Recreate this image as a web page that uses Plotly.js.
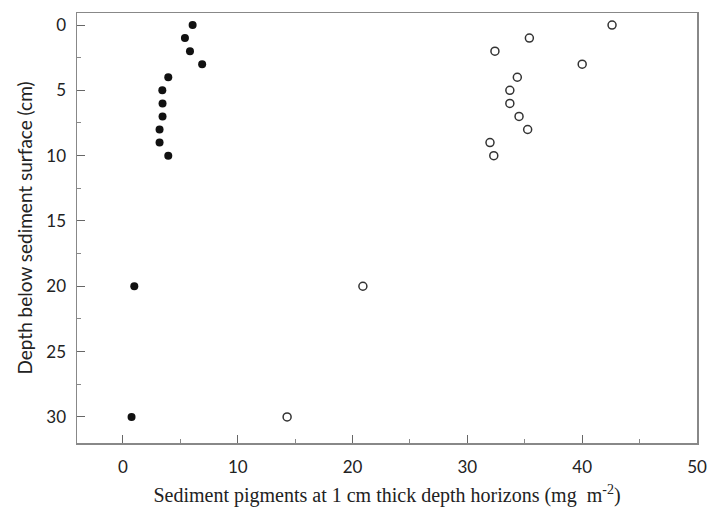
<!DOCTYPE html>
<html>
<head>
<meta charset="utf-8">
<script src="https://cdn.plot.ly/plotly-3.0.1.min.js"></script>
<style>html,body{margin:0;padding:0;background:#fff;}#chart{width:707px;height:516px;}</style>
</head>
<body>
<div id="chart"></div>
<script>
// Filled circles series
var filledPigment = [6.07, 5.4, 5.84, 6.9, 3.95, 3.43, 3.45, 3.45, 3.19, 3.19, 3.95, 0.99, 0.75];
var filledDepth   = [0, 1, 2, 3, 4, 5, 6, 7, 8, 9, 10, 20, 30];
// Open circles series
var openPigment = [42.6, 35.4, 32.4, 40.0, 34.35, 33.7, 33.7, 34.5, 35.25, 31.97, 32.3, 20.9, 14.3];
var openDepth   = [0, 1, 2, 3, 4, 5, 6, 7, 8, 9, 10, 20, 30];

var xTickVals = [0, 10, 20, 30, 40, 50];
var yTickVals = [0, 5, 10, 15, 20, 25, 30];

var traces = [
  {x: filledPigment, y: filledDepth, type: 'scatter', mode: 'markers',
   marker: {symbol: 'circle', size: 8, color: '#111111', line: {width: 0}}},
  {x: openPigment, y: openDepth, type: 'scatter', mode: 'markers',
   marker: {symbol: 'circle-open', size: 8, color: '#333333', line: {width: 1.5}}}
];

var axisFont = {family: 'Lato, sans-serif', size: 17, color: '#222'};

var layout = {
  width: 707, height: 516,
  margin: {l: 77, r: 10, t: 13, b: 73},
  paper_bgcolor: '#fff', plot_bgcolor: '#fff',
  showlegend: false,
  xaxis: {
    range: [-4, 50], tickvals: xTickVals, ticks: 'inside', ticklen: 8, tickwidth: 1,
    tickcolor: '#666', showline: true, linecolor: '#888', linewidth: 1.5, mirror: true,
    showgrid: false, zeroline: false, tickfont: axisFont, ticklabelstandoff: 8,
    minor: {dtick: 5, tick0: 0, ticks: 'inside', ticklen: 4, tickcolor: '#888', showgrid: false},
    title: {text: 'Sediment pigments at 1 cm thick depth horizons (mg  m<sup>-2</sup>)',
            font: {family: 'Liberation Serif, Times New Roman, serif', size: 20, color: '#222'}, standoff: 12}
  },
  yaxis: {
    range: [32, -0.92], tickvals: yTickVals, ticks: 'inside', ticklen: 8, tickwidth: 1,
    tickcolor: '#666', showline: true, linecolor: '#888', linewidth: 1.5, mirror: true,
    showgrid: false, zeroline: false, tickfont: axisFont, ticklabelstandoff: 6,
    minor: {dtick: 2.5, tick0: 0, ticks: 'inside', ticklen: 4, tickcolor: '#888', showgrid: false},
    title: {text: 'Depth below sediment surface (cm)',
            font: {family: 'Lato, sans-serif', size: 19, color: '#222'}, standoff: 8}
  }
};

Plotly.newPlot('chart', traces, layout, {displayModeBar: false, staticPlot: true});
</script>
</body>
</html>
